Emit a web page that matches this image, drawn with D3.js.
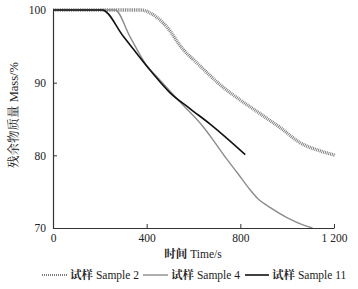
<!DOCTYPE html>
<html><head><meta charset="utf-8">
<script src="https://cdn.jsdelivr.net/npm/d3@7"></script>
<style>
body{margin:0;background:#fff;}
</style></head>
<body><svg id="c" width="358" height="289"></svg>
<script>
const xTicks = [0, 400, 800, 1200];
const xTickLabels = ["0", "400", "800", "1 200"];
const yTicks = [70, 80, 90, 100];
const seriesNames = ["试样 Sample 2", "试样 Sample 4", "试样 Sample 11"];
const sample2 = [[0,100],[372,100],[443,99.0],[498,97.2],[540,95.2],[625,92.4],[714,89.7],[800,87.6],[886,85.7],[971,83.8],[1057,81.7],[1142,80.6],[1206,80.0]];
const sample4 = [[0,100],[265,100],[329,96.3],[393,92.7],[458,90.3],[556,86.9],[642,83.9],[684,82.1],[744,79.4],[787,77.6],[843,75.2],[873,74.1],[928,72.8],[1001,71.4],[1070,70.4],[1108,70.0]];
const sample11 = [[0,100],[210,100],[300,96.4],[415,91.7],[500,88.6],[586,86.4],[671,84.3],[821,80.1]];

const svg = d3.select("#c");
const x = d3.scaleLinear().domain([0,1200]).range([53,334]);
const y = d3.scaleLinear().domain([70,100]).range([228,10]);

const line = d3.line().x(d=>x(d[0])).y(d=>y(d[1])).curve(d3.curveMonotoneX);

const styles = [
  {stroke:"#7a7a7a", width:3.4, dash:"0.9,0.9"},
  {stroke:"#8c8c8c", width:1.4, dash:null},
  {stroke:"#111", width:1.6, dash:null}
];
const data = [sample2, sample4, sample11];
data.forEach((d,i)=>{
  svg.append("path").datum(d).attr("d",line).attr("fill","none")
    .attr("stroke",styles[i].stroke).attr("stroke-width",styles[i].width)
    .attr("stroke-dasharray",styles[i].dash);
});

const serif = "'Liberation Serif','Noto Serif CJK SC',serif";
const xAxis = svg.append("g").attr("transform","translate(0,228)")
  .call(d3.axisBottom(x).tickValues(xTicks).tickSizeInner(-4).tickSizeOuter(0).tickPadding(8)
    .tickFormat((d,i)=>xTickLabels[i]));
const yAxis = svg.append("g").attr("transform","translate(53,0)")
  .call(d3.axisLeft(y).tickValues(yTicks).tickSizeInner(-4).tickSizeOuter(0).tickPadding(8));
[xAxis,yAxis].forEach(g=>{
  g.attr("font-family",serif);
  g.select(".domain").attr("stroke","#333").attr("stroke-width",1.2);
  g.selectAll(".tick line").attr("stroke","#333");
  g.selectAll("text").style("font-family",serif).style("font-size","11.5px").attr("fill","#222");
});
yAxis.selectAll(".tick text").attr("x",-7);
xAxis.selectAll(".tick text").attr("y",6);

svg.append("text").attr("transform","translate(18,115) rotate(-90)")
  .attr("text-anchor","middle").style("font-size","12.5px").attr("fill","#222").style("font-family",serif)
  .text("残余物质量 Mass/%");

function twoPart(sel, cn, en){
  sel.append("tspan").style("font-family",serif).style("font-weight","bold").text(cn);
  sel.append("tspan").style("font-family",serif).text("\u00a0"+en);
}
const xt = svg.append("text").attr("x",193).attr("y",258).attr("text-anchor","middle")
  .style("font-size","11.5px").attr("fill","#222").style("font-family",serif);
twoPart(xt, "时间", "Time/s");

const leg = [
  {x1:42,x2:68,tx:70},
  {x1:143,x2:168,tx:171},
  {x1:245,x2:269,tx:272}
];
leg.forEach((l,i)=>{
  svg.append("line").attr("x1",l.x1).attr("x2",l.x2).attr("y1",275).attr("y2",275)
    .attr("stroke",styles[i].stroke).attr("stroke-width",i===0?2:styles[i].width)
    .attr("stroke-dasharray",i===0?"1,1":null);
  const parts = seriesNames[i].split(" ");
  const t = svg.append("text").attr("x",l.tx).attr("y",279).style("font-size","11.5px").attr("fill","#222")
    .style("font-family",serif);
  twoPart(t, parts[0], parts.slice(1).join(" "));
});
</script></body></html>
